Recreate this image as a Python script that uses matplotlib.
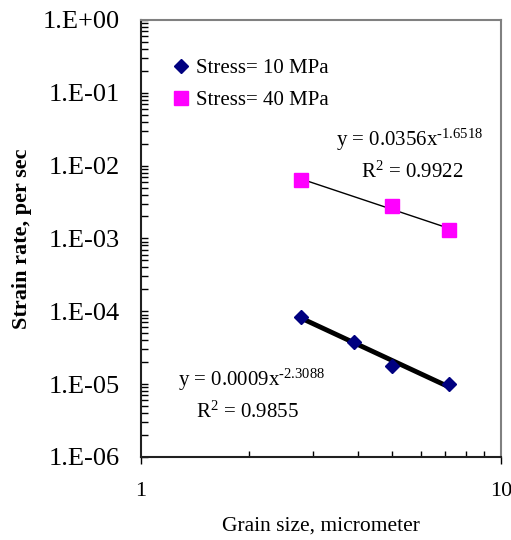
import numpy as np
import matplotlib
matplotlib.use("Agg")
from matplotlib import pyplot as plt
from matplotlib import ticker

plt.rcParams['font.family'] = ['Liberation Serif', 'DejaVu Serif']
plt.rcParams['mathtext.fontset'] = 'custom'
plt.rcParams['mathtext.rm'] = 'Liberation Serif'
plt.rcParams['mathtext.default'] = 'regular'

# data
grain_10 = [2.79, 3.9, 5.0, 7.18]
rate_10 = [8.4e-5, 3.8e-5, 1.78e-5, 1.0e-5]
grain_40 = [2.79, 5.0, 7.16]
rate_40 = [6.3e-3, 2.75e-3, 1.3e-3]

fig = plt.figure(figsize=(5.11, 5.40), dpi=100)
ax = fig.add_axes([0.276, 0.154, 0.704, 0.809])

# power-law trend lines (fit in log space)
def trend(x, y):
    b, a = np.polyfit(np.log10(x), np.log10(y), 1)
    xs = np.array([min(x), max(x)])
    return xs, 10**a * xs**b

xs, ys = trend(grain_10, rate_10)
ax.plot(xs, ys, color='black', lw=3.5, zorder=2)
xs, ys = trend(grain_40, rate_40)
ax.plot(xs, ys, color='black', lw=1, zorder=2)

ax.plot(grain_10, rate_10, 'D', color='#000080', ms=7, ls='none',
        label='Stress= 10 MPa', zorder=3)
ax.plot(grain_40, rate_40, 's', color='#ff00ff', ms=9.5, ls='none',
        label='Stress= 40 MPa', zorder=3)

ax.set_xscale('log')
ax.set_yscale('log')
ax.set_xlim(1, 10)
ax.set_ylim(1e-6, 1)

ax.yaxis.set_major_locator(ticker.LogLocator(base=10, numticks=10))
ax.yaxis.set_minor_locator(ticker.LogLocator(base=10, subs=np.arange(2, 10), numticks=10))
ax.yaxis.set_major_formatter(ticker.FuncFormatter(
    lambda v, p: "1.E%+03d" % int(round(np.log10(v)))))
ax.yaxis.set_minor_formatter(ticker.NullFormatter())
ax.xaxis.set_major_formatter(ticker.FuncFormatter(lambda v, p: "%g" % v))
ax.xaxis.set_minor_formatter(ticker.NullFormatter())

ax.tick_params(axis='y', which='both', direction='in', length=5, width=1,
               labelsize=19, pad=15)
ax.tick_params(axis='x', which='major', direction='out', length=5, width=1,
               labelsize=16, pad=13)
ax.tick_params(axis='x', which='minor', direction='in', length=4, width=1)

for s in ['top', 'right']:
    ax.spines[s].set_color('#808080')
    ax.spines[s].set_linewidth(1.5)
for s in ['left', 'bottom']:
    ax.spines[s].set_linewidth(1.5)
    ax.spines[s].set_color('#202020')

ax.set_ylabel('Strain rate, per sec', fontsize=16, fontweight='bold', labelpad=8)
ax.set_xlabel('Grain size, micrometer', fontsize=15.5, labelpad=11)

ax.legend(loc='upper left', bbox_to_anchor=(0.03, 0.955), frameon=False,
          fontsize=15, handletextpad=0.2, labelspacing=0.6, handlelength=1.0)

hy = '\u2010'
ax.text(0.747, 0.725, 'y = 0.0356x$^{' + hy + '1.6518}$', transform=ax.transAxes,
        ha='center', va='center', fontsize=15)
ax.text(0.755, 0.652, 'R$^{2}$ = 0.9922', transform=ax.transAxes,
        ha='center', va='center', fontsize=15)
ax.text(0.103, 0.176, 'y = 0.0009x$^{' + hy + '2.3088}$', transform=ax.transAxes,
        ha='left', va='center', fontsize=15)
ax.text(0.297, 0.103, 'R$^{2}$ = 0.9855', transform=ax.transAxes,
        ha='center', va='center', fontsize=15)

fig.savefig('out.png', dpi=100)
